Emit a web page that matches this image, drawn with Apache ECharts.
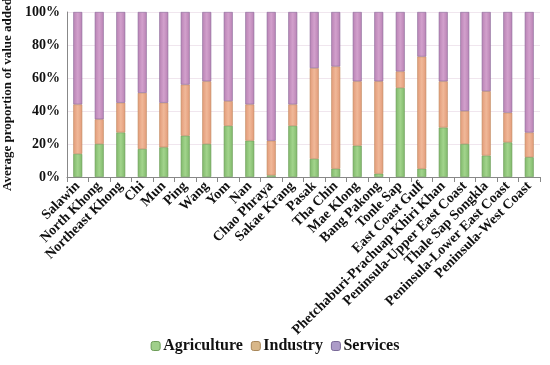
<!DOCTYPE html>
<html><head><meta charset="utf-8">
<script src="https://cdn.jsdelivr.net/npm/echarts@6/dist/echarts.min.js"></script>
<style>html,body{margin:0;padding:0;background:#fff}#c{width:550px;height:365px}</style>
</head><body><div id="c"></div>
<script>
var categories = ["Salawin","North Khong","Northeast Khong","Chi","Mun","Ping","Wang","Yom","Nan","Chao Phraya","Sakae Krang","Pasak","Tha Chin","Mae Klong","Bang Pakong","Tonle Sap","East Coast Gulf","Phetchaburi-Prachuap Khiri Khan","Peninsula-Upper East Coast","Thale Sap Songkla","Peninsula-Lower East Coast","Peninsula-West Coast"];
var agriculture = [14,20,27,17,18,25,20,31,22,1,31,11,5,19,2,54,5,30,20,13,21,12];
var industry    = [30,15,18,34,27,31,38,15,22,21,13,55,62,39,56,10,68,28,20,39,18,15];
var services    = [56,65,55,49,55,44,42,54,56,78,56,34,33,42,42,36,27,42,60,48,61,73];
var yTicks = ["0%","20%","40%","60%","80%","100%"];

var font = "'Liberation Serif', 'Times New Roman', serif";
function grad(a,b){return {type:'linear',x:0,y:0,x2:1,y2:0,colorStops:[{offset:0,color:a},{offset:0.5,color:b},{offset:1,color:a}]};}
var chart = echarts.init(document.getElementById('c'));
chart.setOption({
  animation:false,
  grid:{left:67,right:10,top:12,bottom:188,containLabel:false,outerBoundsMode:'none'},
  legend:{bottom:6,left:'center',itemWidth:9,itemHeight:9,itemGap:8,
    textStyle:{fontFamily:font,fontWeight:'bold',fontSize:16,color:'#111',padding:[0,0,0,-2]},
    data:[{name:'Agriculture',itemStyle:{color:'#9fcf8a',borderColor:'#6c9c58',borderWidth:1}},
          {name:'Industry',itemStyle:{color:'#d8b789',borderColor:'#a8875a',borderWidth:1}},
          {name:'Services',itemStyle:{color:'#ac9bc8',borderColor:'#7a6a98',borderWidth:1}}]},
  xAxis:{type:'category',data:categories,
    axisLine:{lineStyle:{color:'#888'}},
    axisTick:{show:true,alignWithLabel:false,lineStyle:{color:'#888'}},
    axisLabel:{rotate:45,interval:0,margin:7,fontFamily:font,fontWeight:'bold',fontSize:14,color:'#111'}},
  yAxis:{type:'value',min:0,max:100,interval:20,
    name:'Average proportion of value added',nameLocation:'middle',nameGap:48,
    nameTextStyle:{fontFamily:font,fontWeight:'bold',fontSize:13,color:'#111'},
    axisLine:{show:true,lineStyle:{color:'#888'}},
    axisTick:{show:false},
    splitLine:{lineStyle:{color:'#f0e6ee'}},
    axisLabel:{fontFamily:font,fontWeight:'bold',fontSize:14,color:'#111',margin:7,
      formatter:function(v){return yTicks[Math.round(v/20)];}}},
  series:[
    {name:'Agriculture',type:'bar',stack:'s',barWidth:9,data:agriculture,
     itemStyle:{color:grad('#7fb86a','#a2d48c'),borderColor:'#6a9a55',borderWidth:0.6}},
    {name:'Industry',type:'bar',stack:'s',barWidth:9,data:industry,
     itemStyle:{color:grad('#e29a78','#f0b898'),borderColor:'#c08a60',borderWidth:0.6}},
    {name:'Services',type:'bar',stack:'s',barWidth:9,data:services,
     itemStyle:{color:grad('#b882b4','#d2a0cc'),borderColor:'#8a6a9a',borderWidth:0.6}}
  ]
});
</script></body></html>
